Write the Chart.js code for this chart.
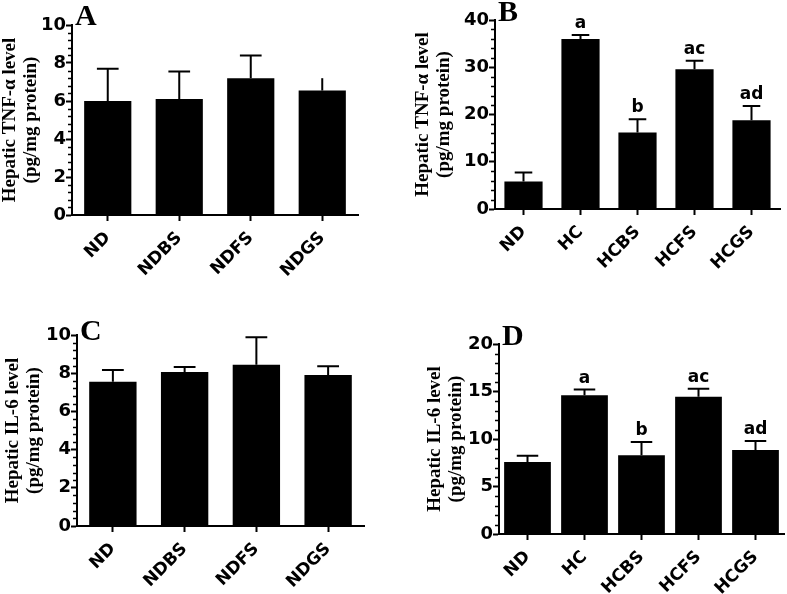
<!DOCTYPE html>
<html>
<head>
<meta charset="utf-8">
<script src="https://cdn.jsdelivr.net/npm/chart.js@4"></script>
<style>
  body { margin: 0; background: #fff; }
  #wrap { position: relative; width: 787px; height: 594px; overflow: hidden; }
  #wrap canvas { position: absolute; }
</style>
</head>
<body>
<div id="wrap">
  <canvas id="chartA" width="393" height="297" style="left:0;top:0"></canvas>
  <canvas id="chartB" width="394" height="297" style="left:393px;top:0"></canvas>
  <canvas id="chartC" width="393" height="297" style="left:0;top:297px"></canvas>
  <canvas id="chartD" width="394" height="297" style="left:393px;top:297px"></canvas>
</div>
<script>
// groups
const normalGroups = ['ND', 'NDBS', 'NDFS', 'NDGS'];
const hcGroups = ['ND', 'HC', 'HCBS', 'HCFS', 'HCGS'];

// TNF-alpha (pg/mg protein), mean and SEM
const tnfNormal = [6.0, 6.1, 7.2, 6.55];
const tnfNormalSem = [1.7, 1.45, 1.2, 0.65];
const tnfHC = [5.8, 36.0, 16.2, 29.6, 18.8];
const tnfHCSem = [1.9, 0.8, 2.8, 1.8, 3.0];

// IL-6 (pg/mg protein), mean and SEM
const il6Normal = [7.55, 8.06, 8.44, 7.9];
const il6NormalSem = [0.62, 0.26, 1.44, 0.47];
const il6HC = [7.58, 14.6, 8.28, 14.45, 8.84];
const il6HCSem = [0.66, 0.6, 1.4, 0.85, 0.95];

// significance letters
const hcLetters = ['', 'a', 'b', 'ac', 'ad'];

// y axis ranges
const yMaxNormal = 10;
const yMaxTnfHC = 40;
const yMaxIl6HC = 20;

const SANS = 'DejaVu Sans';
const SERIF = 'Liberation Serif';

// error bars (upper only) + letters + panel letter + minor y ticks
const extras = {
  id: 'extras',
  afterDatasetsDraw(chart, args, opts) {
    const { ctx } = chart;
    const yScale = chart.scales.y;
    const meta = chart.getDatasetMeta(0);
    ctx.save();
    ctx.strokeStyle = '#000';
    ctx.fillStyle = '#000';
    ctx.lineWidth = 2;
    meta.data.forEach((bar, i) => {
      const top = yScale.getPixelForValue(opts.values[i] + opts.sem[i]);
      const half = bar.width * 0.23;
      ctx.beginPath();
      ctx.moveTo(bar.x, bar.y);
      ctx.lineTo(bar.x, top);
      if (!opts.noCap || !opts.noCap[i]) {
        ctx.moveTo(bar.x - half, top);
        ctx.lineTo(bar.x + half, top);
      }
      ctx.stroke();
      if (opts.letters && opts.letters[i]) {
        ctx.font = `bold 17px "${SANS}"`;
        ctx.textAlign = 'center';
        ctx.textBaseline = 'alphabetic';
        ctx.fillText(opts.letters[i], bar.x, top - 7);
      }
    });
    ctx.restore();
  },
  afterDraw(chart, args, opts) {
    const { ctx, chartArea } = chart;
    const yScale = chart.scales.y;
    ctx.save();
    // minor ticks
    ctx.strokeStyle = '#000';
    ctx.lineWidth = 1.5;
    const n = Math.round((yScale.max - yScale.min) / opts.minor);
    ctx.beginPath();
    for (let k = 1; k < n; k += 1) {
      if (k % 5 === 0) continue;
      const py = Math.round(yScale.getPixelForValue(yScale.min + k * opts.minor)) + 0.5;
      ctx.moveTo(chartArea.left - 4, py);
      ctx.lineTo(chartArea.left, py);
    }
    ctx.stroke();
    // panel letter
    ctx.fillStyle = '#000';
    ctx.font = `bold 30px "${SERIF}"`;
    ctx.textAlign = 'left';
    ctx.textBaseline = 'alphabetic';
    ctx.fillText(opts.panel, chartArea.left + 3, chartArea.top + opts.panelDy);
    ctx.restore();
  },
};

function makePanel(id, labels, values, sem, yMax, step, titleLines, geo, extraOpts) {
  const canvas = document.getElementById(id);
  // eslint-disable-next-line no-new
  new Chart(canvas, {
    type: 'bar',
    data: {
      labels,
      datasets: [{
        data: values,
        backgroundColor: '#000',
        borderWidth: 0,
        categoryPercentage: 1,
        barPercentage: geo.barPct,
      }],
    },
    options: {
      responsive: false,
      animation: false,
      layout: {
        padding: { top: geo.top, right: canvas.width - geo.right, left: 0, bottom: 0 },
      },
      plugins: {
        legend: { display: false },
        tooltip: { enabled: false },
        extras: { values, sem, ...extraOpts },
      },
      scales: {
        x: {
          afterFit: (s) => { s.height = canvas.height - geo.bottom; },
          grid: {
            offset: false,
            drawOnChartArea: false,
            drawTicks: true,
            tickLength: 6,
            tickWidth: 2,
            tickColor: '#000',
          },
          border: { display: true, color: '#000', width: 2 },
          ticks: {
            color: '#000',
            font: { family: SANS, size: 17, weight: 'bold' },
            minRotation: 45,
            maxRotation: 45,
            padding: 7,
          },
        },
        y: {
          min: 0,
          max: yMax,
          afterFit: (s) => { s.width = geo.left; },
          grid: {
            drawOnChartArea: false,
            drawTicks: true,
            tickLength: 6,
            tickWidth: 2,
            tickColor: '#000',
          },
          border: { display: true, color: '#000', width: 2 },
          ticks: {
            stepSize: step,
            color: '#000',
            font: { family: SANS, size: 18, weight: 'bold' },
            padding: 0,
          },
          title: {
            display: true,
            text: titleLines,
            color: '#000',
            font: { family: SERIF, size: 19, weight: 'bold', lineHeight: 1.08 },
            padding: { top: geo.titlePad, bottom: 0 },
          },
        },
      },
    },
    plugins: [extras],
  });
}

const tnfTitle = ['Hepatic TNF-\u03b1 level', '(pg/mg protein)'];
const il6Title = ['Hepatic IL-6 level', '(pg/mg protein)'];

makePanel('chartA', normalGroups, tnfNormal, tnfNormalSem, yMaxNormal, 2, tnfTitle,
  { left: 72, right: 358, top: 25, bottom: 215, barPct: 0.66, titlePad: 0 },
  { panel: 'A', panelDy: 0, minor: 0.4, noCap: [false, false, false, true] });

makePanel('chartB', hcGroups, tnfHC, tnfHCSem, yMaxTnfHC, 10, tnfTitle,
  { left: 102, right: 387, top: 20, bottom: 209, barPct: 0.67, titlePad: 20 },
  { panel: 'B', panelDy: 1, minor: 2, letters: hcLetters });

makePanel('chartC', normalGroups, il6Normal, il6NormalSem, yMaxNormal, 2, il6Title,
  { left: 77, right: 364, top: 38, bottom: 229, barPct: 0.66, titlePad: 3 },
  { panel: 'C', panelDy: 5, minor: 0.4 });

makePanel('chartD', hcGroups, il6HC, il6HCSem, yMaxIl6HC, 5, il6Title,
  { left: 106, right: 391, top: 47, bottom: 237, barPct: 0.82, titlePad: 32 },
  { panel: 'D', panelDy: 1, minor: 1, letters: hcLetters });
</script>
</body>
</html>
